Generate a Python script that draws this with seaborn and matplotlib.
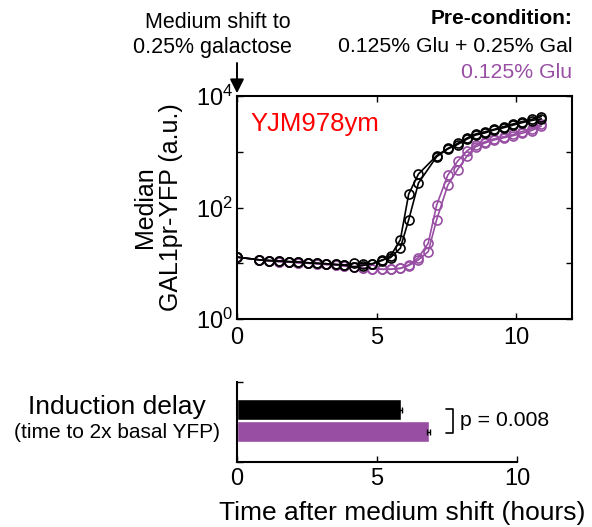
import numpy as np
import pandas as pd
import matplotlib
matplotlib.use("Agg")
import matplotlib.pyplot as plt
import seaborn as sns

# ---------------- data ----------------
t_purple = [0, 0.8, 1.15, 1.5, 1.85, 2.2, 2.55, 2.85, 3.2, 3.55, 3.85, 4.2, 4.5, 4.85,
            5.2, 5.5, 5.85, 6.15, 6.5, 6.85, 7.15, 7.55, 7.9, 8.25, 8.55, 8.9, 9.2,
            9.55, 9.9, 10.2, 10.55, 10.9]
t_black = [0, 0.8, 1.15, 1.5, 1.85, 2.2, 2.55, 2.85, 3.2, 3.55, 3.85, 4.2, 4.5, 4.85,
           5.2, 5.5, 5.85, 6.15, 6.5, 7.15, 7.55, 7.9, 8.25, 8.55, 8.9, 9.2,
           9.55, 9.9, 10.2, 10.55, 10.9]

black_rep1 = [12.9, 11.5, 11.2, 11.0, 10.7, 10.5, 10.2, 10.0, 9.8, 9.5, 9.2, 8.7, 9.1, 9.8,
              11.2, 13.5, 26.3, 174, 398, 851, 1148, 1413, 1778, 2089, 2291, 2512, 2818,
              3162, 3467, 3802, 4266]
black_rep2 = [12.9, 11.5, 11.2, 11.0, 10.7, 10.5, 10.2, 10.0, 9.8, 9.5, 9.3, 10.0, 9.8, 9.8,
              11.5, 12.6, 18.6, 60, 275, 813, 1122, 1349, 1698, 1995, 2188, 2455, 2692,
              3020, 3311, 3631, 3890]
purple_rep1 = [12.9, 11.5, 11.0, 10.7, 10.5, 10.2, 10.0, 9.8, 9.5, 9.3, 8.9, 8.5, 8.3, 7.9,
               7.8, 7.8, 8.1, 9.3, 12.6, 22.9, 110, 380, 676, 1047, 1318, 1514, 1698, 1862,
               2042, 2291, 2570, 3090]
purple_rep2 = [12.9, 11.5, 11.0, 10.7, 10.5, 10.2, 10.0, 9.8, 9.5, 9.3, 8.9, 8.5, 8.3, 7.9,
               7.8, 7.8, 8.1, 9.1, 11.5, 16.2, 60, 251, 479, 851, 1230, 1445, 1622, 1778,
               1950, 2138, 2399, 2884]

conditions = ["0.125% Glu + 0.25% Gal", "0.125% Glu"]
delay_mean = [5.85, 6.85]
delay_err = [0.05, 0.06]

BLACK = "#000000"
PURPLE = "#984ea3"

# ---------------- style ----------------
sns.set_theme(style="ticks")
plt.rcParams["font.family"] = ["Liberation Sans", "DejaVu Sans"]
plt.rcParams["mathtext.fontset"] = "custom"
plt.rcParams["mathtext.rm"] = "Liberation Sans"
plt.rcParams["mathtext.it"] = "Liberation Sans:italic"
for k in ["text.color", "axes.labelcolor", "xtick.color", "ytick.color",
          "xtick.labelcolor", "ytick.labelcolor", "axes.edgecolor"]:
    plt.rcParams[k] = "black"

fig = plt.figure(figsize=(5.92, 5.27), dpi=100)
W, H = 592, 527

def fx(px):
    return px / W

def fy(py):
    return 1 - py / H

# ---------------- top axes ----------------
ax = fig.add_axes([fx(237), fy(319), fx(572) - fx(237), fy(96) - fy(319)])
mk = dict(marker="o", markersize=6.5, markerfacecolor="none", markeredgewidth=1.2,
          linewidth=1.2, estimator=None, legend=False)
for reps, tt, col in [((purple_rep1, purple_rep2), t_purple, PURPLE),
                      ((black_rep1, black_rep2), t_black, BLACK)]:
    for r in reps:
        df = pd.DataFrame({"t": tt, "y": r})
        sns.lineplot(data=df, x="t", y="y", ax=ax, color=col, markeredgecolor=col, **mk)

ax.set_yscale("log")
ax.set_xlim(0, 12)
ax.set_ylim(1, 1e4)
ax.set_xticks([0, 5, 10])
ax.set_xticklabels(["0", "5", "10"])
ax.set_yticks([1, 10, 100, 1000, 10000])
ax.set_yticklabels([r"$10^{0}$", "", r"$10^{2}$", "", r"$10^{4}$"])
ax.yaxis.set_minor_locator(matplotlib.ticker.NullLocator())
ax.tick_params(direction="in", length=4, width=1.0, top=True, right=True,
               labelsize=17, pad=3, colors="black")
ax.tick_params(axis="x", pad=6)
for s in ax.spines.values():
    s.set_linewidth(1.5)
    s.set_color("black")
ax.set_xlabel("")
ax.set_ylabel("Median\nGAL1pr-YFP (a.u.)", fontsize=18, labelpad=9, linespacing=1.1)
ax.text(0.04, 0.93, "YJM978ym", color="red", fontsize=18.5, transform=ax.transAxes,
        ha="left", va="top")

# annotations at top
fig.text(fx(218), fy(22), "Medium shift to", ha="center", va="center", fontsize=15.5)
fig.text(fx(212), fy(47), "0.25% galactose", ha="center", va="center", fontsize=15.5)
ax.annotate("", xy=(0, 1.0), xycoords="axes fraction",
            xytext=(0, 1.0 + 33 / 223), textcoords="axes fraction",
            arrowprops=dict(arrowstyle="-|>,head_length=0.7,head_width=0.35",
                            color="black", lw=1.4, shrinkA=0, shrinkB=2))
fig.text(fx(572), fy(18), "Pre-condition:", ha="right", va="center",
         fontsize=15, fontweight="bold")
fig.text(fx(572), fy(47), conditions[0], ha="right", va="center", fontsize=15.3)
fig.text(fx(572), fy(72), conditions[1], ha="right", va="center", fontsize=15.3,
         color=PURPLE)

# ---------------- bottom axes ----------------
ax2 = fig.add_axes([fx(237), fy(462), fx(517) - fx(237), fy(382) - fy(462)])
bdf = pd.DataFrame({"cond": conditions, "delay": delay_mean})
sns.barplot(data=bdf, x="delay", y="cond", hue="cond", palette=[BLACK, PURPLE],
            orient="h", width=0.95, ax=ax2, legend=False, errorbar=None, saturation=1)
ax2.errorbar(delay_mean, [0, 1], xerr=delay_err, fmt="none", ecolor="black",
             elinewidth=1.0, capsize=2.5, capthick=1.0)
ax2.set_xlim(0, 10)
ax2.set_ylim(2.38, -1.26)
ax2.set_yticks([2.38, -1.26])
ax2.set_yticklabels(["", ""])
ax2.set_xticks([0, 5, 10])
ax2.set_xticklabels(["0", "5", "10"])
ax2.tick_params(direction="in", length=4, width=1.0, labelsize=17, pad=4, colors="black")
ax2.set_xlabel("")
ax2.set_ylabel("")
sns.despine(ax=ax2)
for s in ["left", "bottom"]:
    ax2.spines[s].set_linewidth(1.5)
    ax2.spines[s].set_color("black")

# p-value bracket
ax2.plot([7.45, 7.7, 7.7, 7.45], [-0.05, -0.05, 1.05, 1.05], color="black", lw=1.2,
         clip_on=False)
ax2.text(7.95, 0.5, "p = 0.008", ha="left", va="center", fontsize=15.3)

fig.text(fx(117), fy(407), "Induction delay", ha="center", va="center", fontsize=19)
fig.text(fx(117), fy(432), "(time to 2x basal YFP)", ha="center", va="center", fontsize=15)
fig.text(fx(402), fy(520), "Time after medium shift (hours)", ha="center", va="baseline",
         fontsize=19)

fig.savefig("out.png", dpi=100)
